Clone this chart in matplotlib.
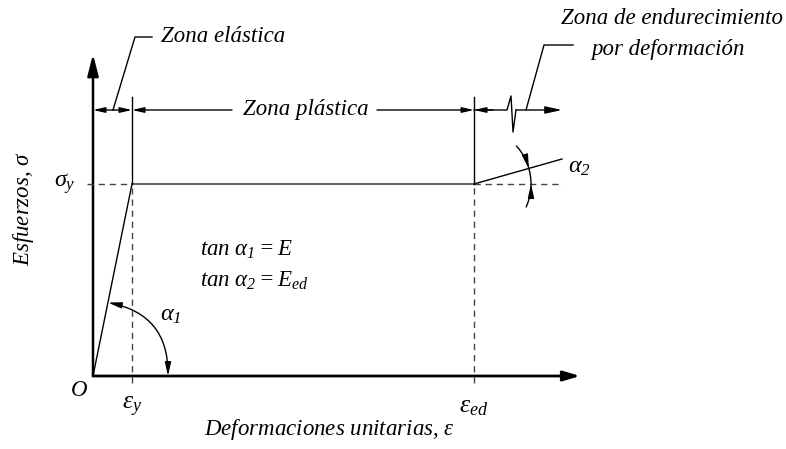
import matplotlib.pyplot as plt
import numpy as np
from matplotlib.patches import FancyArrowPatch, ArrowStyle

plt.rcParams['font.family'] = ['Liberation Serif', 'DejaVu Serif']
plt.rcParams['font.style'] = 'italic'
plt.rcParams['mathtext.fontset'] = 'custom'
plt.rcParams['mathtext.rm'] = 'Liberation Serif:italic'
plt.rcParams['mathtext.it'] = 'Liberation Serif:italic'
plt.rcParams['mathtext.bf'] = 'Liberation Serif:italic'

# schematic values (units: diagram px from origin, stress up)
eps_y = 39
eps_ed = 381
sigma_y = 192
curve_eps = [0, eps_y, eps_ed, 469]
curve_sig = [0, sigma_y, sigma_y, 217]
x_axis_end = 487
y_axis_end = 322
ext_top = 279
dim_y = 266
zigzag_x = [381, 414, 418, 420, 423, 469]
zigzag_y = [266, 266, 280, 244, 266, 266]
fs = 16.5

fig = plt.figure(figsize=(7.86, 4.49), dpi=100)
ax = fig.add_axes([0, 0, 1, 1])
ax.set_xlim(-93, 693)
ax.set_ylim(-73, 376)
ax.axis('off')

def arrow(p0, p1, style='-|>', hl=9, hw=2.2, lw=1.0, rad=0.0, shrink=0):
    a = FancyArrowPatch(p0, p1, arrowstyle=ArrowStyle(style, head_length=hl, head_width=hw),
                        mutation_scale=1, lw=lw, color='black',
                        connectionstyle=f'arc3,rad={rad}', shrinkA=shrink, shrinkB=shrink)
    ax.add_patch(a)

# axes
arrow((0, 0), (x_axis_end, 0), hl=10, hw=3.0, lw=2.0)
arrow((0, 0), (0, y_axis_end), hl=13, hw=3.3, lw=1.8)

# stress-strain curve
ax.plot(curve_eps[:2], curve_sig[:2], color='black', lw=1.0)
ax.plot(curve_eps[1:3], curve_sig[1:3], color='#444444', lw=1.2)
ax.plot(curve_eps[2:], curve_sig[2:], color='black', lw=1.0)

# dashed reference lines
dash = dict(color='#444444', lw=1.0, ls=(0, (4.5, 3.5)))
ax.plot([-6, eps_y], [sigma_y, sigma_y], **dash)
ax.plot([eps_ed, 470], [sigma_y, sigma_y], **dash)
ax.plot([eps_y, eps_y], [-7, sigma_y], **dash)
ax.plot([eps_ed, eps_ed], [-7, sigma_y], **dash)

# extension lines
ax.plot([eps_y, eps_y], [sigma_y, ext_top], color='black', lw=1.0)
ax.plot([eps_ed, eps_ed], [sigma_y, ext_top], color='black', lw=1.0)

# dimension lines
arrow((20, dim_y), (0, dim_y), hl=7, hw=1.6)
arrow((20, dim_y), (eps_y, dim_y), hl=7, hw=1.6)
arrow((139, dim_y), (eps_y, dim_y), hl=7, hw=1.6)
arrow((284, dim_y), (eps_ed, dim_y), hl=7, hw=1.6)
ax.plot(zigzag_x[:-1], zigzag_y[:-1], color='black', lw=1.0)
arrow((zigzag_x[-2], dim_y), (zigzag_x[-1], dim_y), hl=10, hw=2.2)
arrow((400, dim_y), (eps_ed, dim_y), hl=7, hw=1.6)
ax.text(213, dim_y, 'Zona plástica', fontsize=fs, ha='center', va='center')

# leaders
ax.plot([20, 42, 59], [dim_y, 339, 339], color='black', lw=1.0)
ax.text(68, 339, 'Zona elástica', fontsize=fs, ha='left', va='center')
ax.plot([433, 451, 480], [dim_y, 331, 331], color='black', lw=1.0)
ax.text(579, 358, 'Zona de endurecimiento', fontsize=fs, ha='center', va='center')
ax.text(575, 326, 'por deformación', fontsize=fs, ha='center', va='center')

# angle alpha 1
r1 = 75
th1 = np.arctan2(sigma_y, eps_y)
arrow((r1, 0), (r1 * np.cos(th1), r1 * np.sin(th1)), style='<|-|>', hl=8, hw=1.8,
      rad=np.tan(th1 / 2) / 2)
ax.text(67, 61, r'$\alpha_1$', fontsize=fs + 1, ha='left', va='center')

# angle alpha 2
r2 = 57
th2 = np.arctan2(curve_sig[3] - sigma_y, curve_eps[3] - eps_ed)
a_top = np.radians(41.5)
a_bot = np.radians(-23.5)
t = np.linspace(a_bot, a_top, 60)
ax.plot(eps_ed + r2 * np.cos(t), sigma_y + r2 * np.sin(t), color='black', lw=1.0)
arrow((eps_ed + r2 * np.cos(th2 + 0.2), sigma_y + r2 * np.sin(th2 + 0.2)),
      (eps_ed + r2 * np.cos(th2), sigma_y + r2 * np.sin(th2)), hl=8, hw=1.8,
      rad=-np.tan(0.1) / 2)
arrow((eps_ed + r2 * np.cos(-0.2), sigma_y + r2 * np.sin(-0.2)),
      (eps_ed + r2, sigma_y), hl=8, hw=1.8, rad=np.tan(0.1) / 2)
ax.text(475, 209, r'$\alpha_2$', fontsize=fs + 1, ha='left', va='center')

# formulas
ax.text(107, 126, r'$tan\ \alpha_1 = E$', fontsize=fs, ha='left', va='center')
ax.text(107, 95, r'$tan\ \alpha_2 = E_{ed}$', fontsize=fs, ha='left', va='center')

# labels
ax.text(-28, sigma_y, r'$\sigma_y$', fontsize=fs + 1, ha='center', va='center')
ax.text(-14, -14, 'O', fontsize=fs, ha='center', va='center')
ax.text(eps_y, -31, r'$\varepsilon_y$', fontsize=fs + 2, ha='center', va='center')
ax.text(eps_ed, -31, r'$\varepsilon_{ed}$', fontsize=fs + 2, ha='center', va='center')
ax.text(236, -54, r'Deformaciones unitarias, $\varepsilon$', fontsize=fs, ha='center', va='center')
ax.text(-69, 167, r'Esfuerzos, $\sigma$', fontsize=fs, ha='center', va='center', rotation=90)

fig.savefig('out.png', dpi=100)
